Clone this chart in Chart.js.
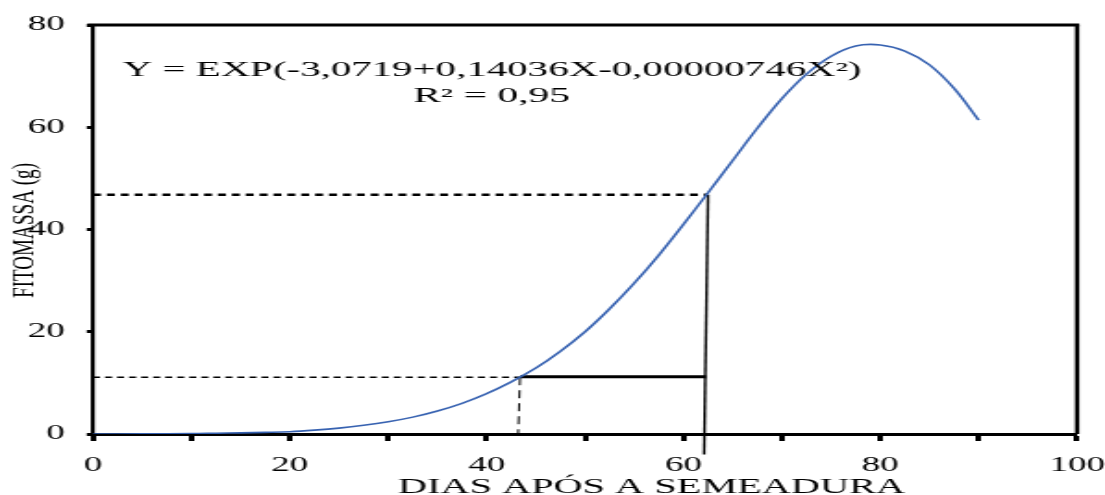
<!DOCTYPE html>
<html lang="pt-BR">
<head>
<meta charset="utf-8">
<title>Fitomassa x dias após a semeadura</title>
<script src="https://cdn.jsdelivr.net/npm/chart.js@4/dist/chart.umd.min.js"></script>
<style>
    html, body { margin: 0; padding: 0; background: #fff; }
</style>
</head>
<body>
<!-- a figura original é esticada na horizontal, por isso o canvas é estreito e esticado via CSS -->
<canvas id="grafico" width="597" height="495" style="width:1105px;height:495px;display:block"></canvas>
<script>
// dados
const dias = [0, 5, 10, 12.5, 15, 17.5, 20, 22.5, 25, 27.5, 30, 32.5, 35, 37.5, 40, 42.5, 45, 47.5,
    50, 52.5, 55, 57.5, 60, 62.5, 65, 67.5, 70, 72.5, 75, 77.5, 80, 82.5, 85, 87.5, 90];
const fitomassa = [0, 0.03, 0.08, 0.15, 0.22, 0.32, 0.45, 0.75, 1.15, 1.7, 2.4, 3.3, 4.5, 6.0, 7.9, 10.2, 12.9, 16.2,
    20.0, 24.5, 29.5, 35.0, 41.0, 47.2, 53.5, 59.8, 65.6, 70.4, 73.9, 75.9, 76.1, 74.9, 72.2, 67.6, 61.4];

// pontos de referência (dias, fitomassa) marcados no gráfico
const diasReferencia = [43.4, 62.4];
const fitomassaReferencia = [11.1, 46.8];

const ticksX = [0, 20, 40, 60, 80, 100];
const ticksY = [0, 20, 40, 60, 80];

const equacao = 'Y = EXP(-3,0719+0,14036X-0,00000746X²)';
const r2 = 'R² = 0,95';
const tituloX = 'DIAS APÓS A SEMEADURA';
const tituloY = 'FITOMASSA (g)';

const ESCALA = 1105 / 597;
const fonte = "'Liberation Serif', 'Times New Roman', serif";

function textoAjustado(ctx, texto, cx, base, largura) {
    const w = ctx.measureText(texto).width;
    ctx.save();
    ctx.translate(cx, base);
    ctx.scale(largura / w, 1);
    ctx.textAlign = 'center';
    ctx.textBaseline = 'alphabetic';
    ctx.fillText(texto, 0, 0);
    ctx.restore();
}

const moldura = {
    id: 'moldura',
    afterDraw(chart) {
        const { ctx, chartArea } = chart;
        ctx.save();
        ctx.strokeStyle = '#000';
        ctx.lineWidth = 3;
        ctx.beginPath();
        ctx.moveTo(chartArea.left - 3, chartArea.top);
        ctx.lineTo(chartArea.right + 1.2, chartArea.top);
        ctx.stroke();
        ctx.lineWidth = 2.4;
        ctx.beginPath();
        ctx.moveTo(chartArea.right, chartArea.top);
        ctx.lineTo(chartArea.right, chartArea.bottom);
        ctx.stroke();
        ctx.restore();
    }
};

const textos = {
    id: 'textos',
    afterDraw(chart) {
        const ctx = chart.ctx;
        ctx.save();
        ctx.fillStyle = '#000';
        ctx.font = '20px ' + fonte;
        textoAjustado(ctx, equacao, 492 / ESCALA, 76, 739 / ESCALA);
        textoAjustado(ctx, r2, 491.5 / ESCALA, 102, 157 / ESCALA);
        textoAjustado(ctx, tituloX, 651.5 / ESCALA, 493, 507 / ESCALA);

        // título do eixo Y, girado
        ctx.font = '17px ' + fonte;
        ctx.save();
        ctx.translate(33 / ESCALA, 230.5);
        ctx.rotate(-Math.PI / 2);
        textoAjustado(ctx, tituloY, 0, 0, 135);
        ctx.restore();
        ctx.restore();
    }
};

function linha(pontos, largura, tracejado, extra) {
    return Object.assign({
        data: pontos,
        showLine: true,
        borderColor: '#000',
        borderWidth: largura,
        borderDash: tracejado,
        pointRadius: 0,
        order: 1
    }, extra || {});
}

const [xa, xb] = diasReferencia;
const [ya, yb] = fitomassaReferencia;

new Chart(document.getElementById('grafico'), {
    type: 'scatter',
    data: {
        datasets: [
            {
                data: dias.map((d, i) => ({ x: d, y: fitomassa[i] })),
                showLine: true,
                borderColor: '#3762b1',
                borderWidth: 1.6,
                pointRadius: 0,
                tension: 0.35,
                order: 0
            },
            linha([{ x: 0, y: yb }, { x: xb, y: yb }], 2.5, [4.3, 3.2]),
            linha([{ x: xb + 0.1, y: yb }, { x: xb - 0.3, y: -4 }], 1.4, [], { clip: false }),
            linha([{ x: 0, y: ya }, { x: xa, y: ya }], 1.6, [3.8, 2.7]),
            linha([{ x: xa, y: ya }, { x: xa - 0.2, y: 0 }], 1.0, [8, 5]),
            linha([{ x: xa, y: ya + 0.1 }, { x: xb - 0.1, y: ya + 0.1 }], 3, [])
        ]
    },
    options: {
        responsive: false,
        devicePixelRatio: 1,
        animation: false,
        layout: { padding: { left: 0, right: 15.1, top: 25, bottom: 0 } },
        plugins: { legend: { display: false }, tooltip: { enabled: false } },
        scales: {
            x: {
                type: 'linear',
                min: 0,
                max: 100,
                afterFit: (escala) => {
                    escala.height = 61;
                    escala.paddingLeft = 0;
                    escala.paddingRight = 0;
                },
                border: { display: true, color: '#000', width: 3 },
                grid: { drawOnChartArea: false, drawTicks: true, tickLength: 7, tickWidth: 3, tickColor: '#000' },
                ticks: {
                    stepSize: 10,
                    padding: 13,
                    color: '#000',
                    maxRotation: 0,
                    font: { family: fonte, size: 20 },
                    callback: (v) => ticksX.includes(v) ? String(v) : ''
                }
            },
            y: {
                type: 'linear',
                min: 0,
                max: 80,
                afterFit: (escala) => {
                    escala.width = 93 / ESCALA;
                    escala.paddingTop = 0;
                    escala.paddingBottom = 0;
                },
                border: { display: true, color: '#000', width: 2.2 },
                grid: { drawOnChartArea: false, drawTicks: true, tickLength: 3.4, tickWidth: 3, tickColor: '#000' },
                ticks: {
                    stepSize: 20,
                    padding: 11.8,
                    color: '#000',
                    font: { family: fonte, size: 20 },
                    callback: (v) => ticksY.includes(v) ? String(v) : ''
                }
            }
        }
    },
    plugins: [moldura, textos]
});
</script>
</body>
</html>
